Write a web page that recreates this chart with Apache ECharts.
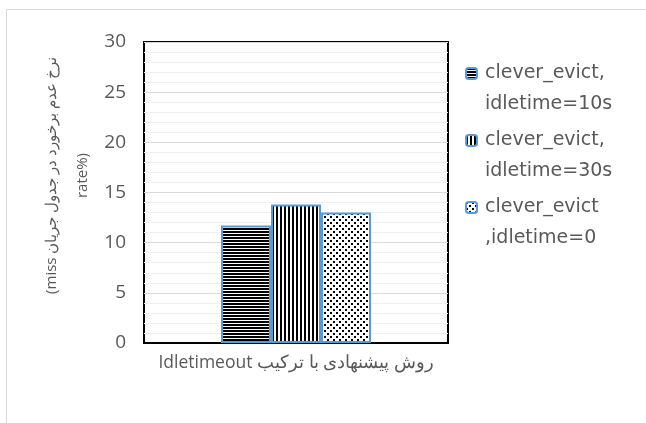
<!DOCTYPE html>
<html>
<head>
<meta charset="utf-8">
<script src="https://cdn.jsdelivr.net/npm/echarts@6/dist/echarts.min.js"></script>
<style>
  html, body { margin: 0; padding: 0; background: #fff; }
  #chart { width: 646px; height: 423px; }
</style>
</head>
<body>
<div id="chart"></div>
<script>
// category label written in visual order (canvas renders LTR)
const categories = ['Idletimeout روش پیشنهادی با ترکیب'];
const seriesNames = ['clever_evict,\nidletime=10s', 'clever_evict,\nidletime=30s', 'clever_evict\n,idletime=0'];
const idle10 = [11.7];
const idle30 = [13.8];
const idle0 = [13.0];
const yName = '(miss نرخ عدم برخورد در جدول جریان\nrate%)';

function makePattern(w, h, draw) {
  const c = document.createElement('canvas');
  c.width = w; c.height = h;
  const ctx = c.getContext('2d');
  ctx.fillStyle = '#fff';
  ctx.fillRect(0, 0, w, h);
  ctx.fillStyle = '#000';
  draw(ctx);
  return {image: c, repeat: 'repeat'};
}

const hStripes = makePattern(3, 3, ctx => ctx.fillRect(0, 0, 3, 2));
const vStripes = makePattern(4, 4, ctx => ctx.fillRect(0, 0, 2, 4));
const dots = makePattern(6, 6, ctx => {
  ctx.fillRect(0, 0, 2, 2);
  ctx.fillRect(3, 3, 2, 2);
});

const textColor = '#595959';
const border = {borderColor: '#5b9bd5', borderWidth: 2};

const chart = echarts.init(document.getElementById('chart'));
chart.setOption({
  animation: false,
  graphic: [{
    type: 'rect',
    shape: {x: 6.5, y: 9.5, width: 700, height: 500},
    style: {fill: 'none', stroke: '#d9d9d9', lineWidth: 1}
  }],
  grid: {
    left: 144,
    top: 42,
    right: 198,
    bottom: 80,
    show: true,
    borderColor: '#000',
    borderWidth: 2
  },
  legend: {
    orient: 'vertical',
    left: 465,
    top: 27,
    padding: 0,
    itemWidth: 11,
    itemHeight: 11,
    itemGap: -26,
    // blank first line keeps the icon level with the first text line
    formatter: name => '{s| }\n' + name,
    textStyle: {
      fontFamily: 'DejaVu Sans',
      fontSize: 19,
      color: textColor,
      lineHeight: 31,
      padding: [0, 0, 0, 3],
      rich: {s: {lineHeight: 31, fontSize: 19}}
    },
    data: seriesNames
  },
  xAxis: {
    type: 'category',
    data: categories,
    axisLine: {lineStyle: {color: '#000', width: 2}},
    axisTick: {show: false},
    axisLabel: {
      margin: 11,
      fontFamily: 'Open Sans',
      fontSize: 17.5,
      color: textColor
    }
  },
  yAxis: {
    type: 'value',
    min: 0,
    max: 30,
    interval: 5,
    name: yName,
    nameLocation: 'middle',
    nameRotate: 90,
    nameGap: 46,
    nameTextStyle: {
      fontFamily: 'Open Sans',
      fontSize: 15,
      lineHeight: 31,
      color: textColor,
      padding: [0, 0, 0, 34]
    },
    axisLine: {show: false},
    axisTick: {show: false},
    axisLabel: {
      margin: 18,
      fontFamily: 'Open Sans',
      fontSize: 19,
      color: textColor
    },
    splitLine: {lineStyle: {color: '#d9d9d9', width: 1}},
    minorTick: {show: false, splitNumber: 5},
    minorSplitLine: {show: true, lineStyle: {color: '#f0f0f0', width: 1}}
  },
  series: [
    {name: seriesNames[0], type: 'bar', data: idle10, barWidth: 50, barGap: '0%',
     itemStyle: Object.assign({color: hStripes}, border)},
    {name: seriesNames[1], type: 'bar', data: idle30, barWidth: 50, barGap: '0%',
     itemStyle: Object.assign({color: vStripes}, border)},
    {name: seriesNames[2], type: 'bar', data: idle0, barWidth: 50, barGap: '0%',
     itemStyle: Object.assign({color: dots}, border)}
  ]
});
</script>
</body>
</html>
